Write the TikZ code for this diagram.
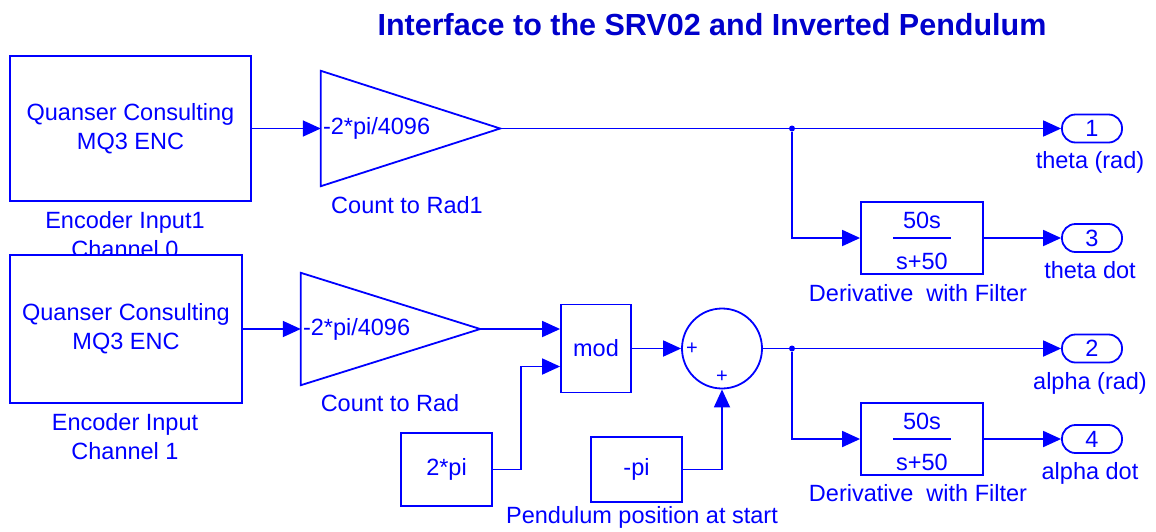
\documentclass[tikz,border=0pt]{standalone}
\usepackage{fontspec}
\setmainfont{Liberation Sans}
\usetikzlibrary{arrows.meta,calc}
\definecolor{slblue}{RGB}{0,0,255}
\definecolor{titleblue}{RGB}{0,0,204}

\begin{document}
\begin{tikzpicture}[
    x=1pt, y=-1pt,
    color=slblue,
    every node/.style={font=\fontsize{23.5}{29}\selectfont, inner sep=0pt},
    block/.style={draw, line width=1.8pt, fill=white},
    gainbox/.style={minimum width=179pt},
    sumblk/.style={circle, draw, line width=1.8pt, minimum size=80pt},
    port/.style={draw, line width=1.8pt, rounded corners=13.5pt, minimum width=60pt, minimum height=28pt},
    dot/.style={circle, fill, minimum size=6pt},
    wire/.style={line width=1.8pt},
    arr/.style={-{Triangle[length=18pt,width=16pt]}, line width=1.8pt}
]
\path[fill=white] (0,0) rectangle (1156,531);
\useasboundingbox (0,0) rectangle (1156,531);

% Title
\node[font=\bfseries\fontsize{30.5}{36}\selectfont, text=titleblue] (title) at (712,25) {Interface to the SRV02 and Inverted Pendulum};

% Encoder Input1
\node[block, minimum width=241pt, minimum height=145pt, align=center] (enc1) at (130.5,128.5) {Quanser Consulting\\MQ3 ENC};
\node[align=center] (enc1lbl) at (125,234.5) {Encoder Input1\\Channel 0};

% Encoder Input
\node[block, minimum width=232pt, minimum height=148pt, align=center] (enc2) at (126,329) {Quanser Consulting\\MQ3 ENC};
\node[align=center] (enc2lbl) at (125,437) {Encoder Input\\Channel 1};

% Count to Rad1
\node[gainbox, minimum height=115pt] (g1) at (410.5,128.5) {};
\draw[wire] (g1.north west) -- (g1.east) -- (g1.south west) -- cycle;
\node[anchor=west] (g1txt) at ([xshift=2pt]g1.west) {-2*pi/4096};
\node (g1lbl) at (407,205) {Count to Rad1};

% Count to Rad
\node[gainbox, minimum height=112pt] (g2) at (390.5,329) {};
\draw[wire] (g2.north west) -- (g2.east) -- (g2.south west) -- cycle;
\node[anchor=west] (g2txt) at ([xshift=2pt]g2.west) {-2*pi/4096};
\node (g2lbl) at (390,403) {Count to Rad};

% mod, sum and constants
\node[block, minimum width=91pt, minimum height=73pt] (twopi) at (446.5,469.5) {2*pi};
\node[block, minimum width=70pt, minimum height=88pt] (mod) at (596,348.5) {mod};
\coordinate (modin) at ([yshift=-18pt]mod.west);
\node[sumblk] (sum) at (722,348.5) {};
\node[font=\fontsize{20}{20}\selectfont] (plusa) at (692,348.5) {+};
\node[font=\fontsize{20}{20}\selectfont] (plusb) at (722,377) {+};
\node[block, minimum width=91pt, minimum height=65pt] (negpi) at (636.5,469.5) {-pi};
\node (negpilbl) at (642,517) {Pendulum position at start};

% Derivative with Filter (theta)
\node[block, minimum width=122pt, minimum height=72pt] (filt1) at (922,238) {};
\node (num1) at ([yshift=17.5pt]filt1.center) {50s};
\draw[wire] ([xshift=-29pt]filt1.center) -- ([xshift=29pt]filt1.center);
\node (den1) at ([yshift=-23.5pt]filt1.center) {s+50};
\node (filt1lbl) at (918,293) {Derivative\ \ with Filter};

% Derivative with Filter (alpha)
\node[block, minimum width=122pt, minimum height=72pt] (filt2) at (922,439) {};
\node (num2) at ([yshift=17.5pt]filt2.center) {50s};
\draw[wire] ([xshift=-29pt]filt2.center) -- ([xshift=29pt]filt2.center);
\node (den2) at ([yshift=-23.5pt]filt2.center) {s+50};
\node (filt2lbl) at (918,493) {Derivative\ \ with Filter};

% Outports
\node[port] (out1) at (1092,128.5) {1};
\node (out1lbl) at (1090,162) {theta (rad)};
\node[port] (out3) at (1092,238) {3};
\node (out3lbl) at (1090,270) {theta dot};
\node[port] (out2) at (1092,348.5) {2};
\node (out2lbl) at (1090,383) {alpha (rad)};
\node[port] (out4) at (1092,439) {4};
\node (out4lbl) at (1090,473) {alpha dot};

% Branch points
\node[dot] (b1) at (792,128.5) {};
\node[dot] (b2) at (792,348.5) {};

% Signals
\draw[arr] (enc1.east |- g1.west) -- (g1.west);
\draw[wire] (g1.east) -- (b1);
\draw[arr] (b1) -- (out1.west);
\draw[arr] (b1) |- (filt1.west);
\draw[arr] (filt1.east) -- (out3.west);
\draw[arr] (enc2.east |- g2.west) -- (g2.west);
\draw[arr] (g2.east) -- (g2.east -| mod.west);
\draw[arr] (twopi.east) -| ([xshift=-39pt]modin) -- (modin);
\draw[arr] (mod.east) -- (sum.west);
\draw[arr] (negpi.east) -| (sum.south);
\draw[wire] (sum.east) -- (b2);
\draw[arr] (b2) -- (out2.west);
\draw[arr] (b2) |- (filt2.west);
\draw[arr] (filt2.east) -- (out4.west);
\end{tikzpicture}
\end{document}
